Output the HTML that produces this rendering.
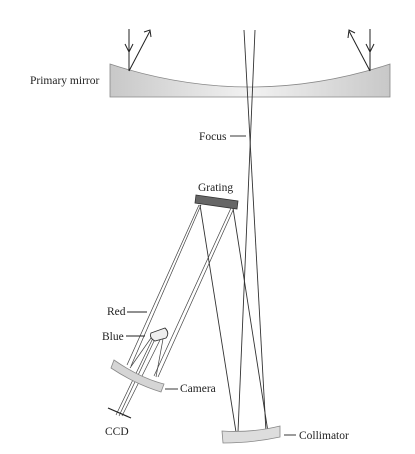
<!DOCTYPE html>
<html><head><meta charset="utf-8"><style>
html,body{margin:0;padding:0;background:#fff;width:415px;height:454px;overflow:hidden}
text{font-family:"Liberation Serif","DejaVu Serif",serif;font-size:11.5px;fill:#222}
</style></head><body>
<svg width="415" height="454" viewBox="0 0 415 454" font-family="Liberation Serif, DejaVu Serif, serif">
<defs>
<linearGradient id="mg" x1="0" x2="1" y1="0" y2="0">
<stop offset="0" stop-color="#c8c8c8"/><stop offset="0.5" stop-color="#f2f2f2"/><stop offset="1" stop-color="#c8c8c8"/>
</linearGradient>
</defs>
<g>
<path d="M110,64 Q250,110 390,64 L390,97 L110,97 Z" fill="url(#mg)" stroke="#888" stroke-width="0.8"/>
</g>
<text x="30" y="84" font-family="Liberation Serif, serif">Primary mirror</text>
<g stroke="#222" stroke-width="1" fill="none">
<line x1="129" y1="29" x2="129" y2="71"/><polyline points="125,44 129,52 133,44"/>
<line x1="129" y1="71" x2="150" y2="31"/><polyline points="144,32 150,30 151,37"/>
<line x1="370" y1="29" x2="370" y2="71"/><polyline points="366,44 370,52 374,44"/>
<line x1="370" y1="71" x2="349" y2="31"/><polyline points="348,38 349,30 355,33"/>
</g>
<g stroke="#333" stroke-width="0.9">
<line x1="244" y1="30" x2="266" y2="432"/>
<line x1="255" y1="30" x2="238" y2="432"/>
</g>
<text x="199" y="140" font-family="Liberation Serif, serif">Focus</text>
<line x1="230" y1="136" x2="246" y2="136" stroke="#222" stroke-width="0.9"/>
<g stroke="#333" stroke-width="0.9">
<line x1="200" y1="205" x2="236" y2="432"/>
<line x1="233" y1="208" x2="268" y2="432"/>
</g>
<text x="198" y="191" font-family="Liberation Serif, serif">Grating</text>
<polygon points="196,195 238,201 237,209 195,203" fill="#666" stroke="#333" stroke-width="0.8"/>
<g stroke="#444" stroke-width="0.7" fill="none">
<line x1="199" y1="205" x2="127" y2="365"/><line x1="201" y1="205" x2="131" y2="366"/>
<line x1="231" y1="208" x2="154" y2="376"/><line x1="234" y1="208" x2="158" y2="377"/>
<line x1="130" y1="368" x2="151" y2="338"/><line x1="156" y1="377" x2="163" y2="339"/>
<line x1="153" y1="338" x2="116" y2="415"/><line x1="160" y1="340" x2="122" y2="416"/>
<line x1="155" y1="339" x2="119" y2="416"/>
</g>
<g>
<path d="M151,333 L165,328 Q170,333 166,338 L155,341 Q149,338 151,333 Z" fill="#eee" stroke="#333" stroke-width="0.9"/>
</g>
<g>
<path d="M114,360 Q140,378 164,384 L161,392 Q135,384 111,368 Z" fill="#d5d5d5" stroke="#888" stroke-width="0.8"/>
</g>
<line x1="108" y1="408" x2="131" y2="418" stroke="#222" stroke-width="1.2"/>
<text x="107" y="315" font-family="Liberation Serif, serif">Red</text>
<line x1="127" y1="312" x2="147" y2="312" stroke="#222" stroke-width="0.9"/>
<text x="102" y="340" font-family="Liberation Serif, serif">Blue</text>
<line x1="126" y1="336" x2="145" y2="336" stroke="#222" stroke-width="0.9"/>
<text x="180" y="392" font-family="Liberation Serif, serif">Camera</text>
<line x1="165" y1="389" x2="178" y2="389" stroke="#222" stroke-width="0.9"/>
<text x="105" y="435" font-family="Liberation Serif, serif">CCD</text>
<g>
<path d="M222,431 Q252,433 280,426 L280,437 Q252,443 223,443 Z" fill="#ddd" stroke="#888" stroke-width="0.8"/>
</g>
<line x1="284" y1="435" x2="296" y2="435" stroke="#222" stroke-width="0.9"/>
<text x="299" y="439" font-family="Liberation Serif, serif">Collimator</text>
</svg>
</body></html>
